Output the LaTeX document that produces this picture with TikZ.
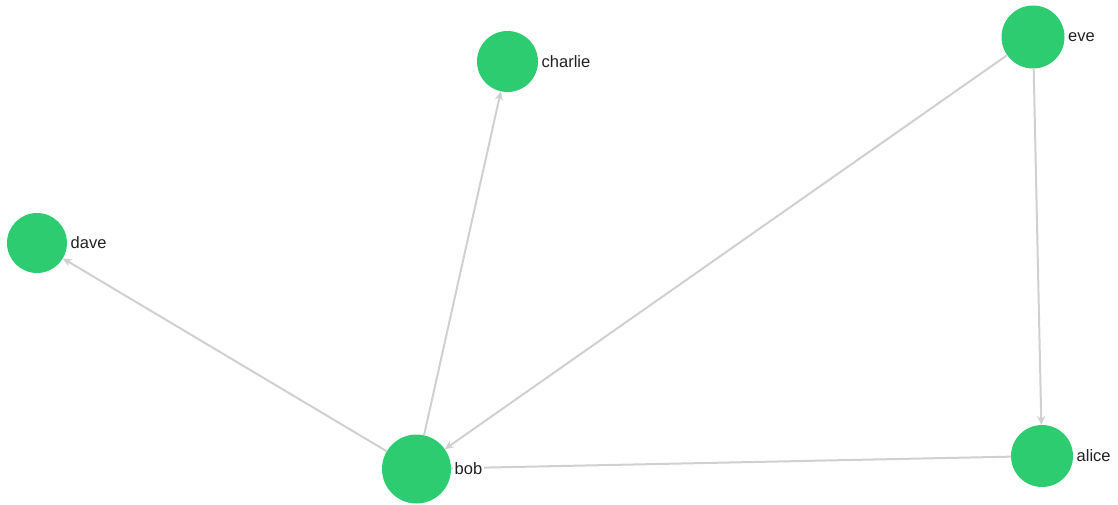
\documentclass[tikz,border=0pt]{standalone}
\usepackage{fontspec}
\setmainfont{Liberation Sans}
\usetikzlibrary{arrows.meta}
\definecolor{nodegreen}{RGB}{46,204,113}
\definecolor{edgegray}{RGB}{208,208,208}
\definecolor{labelgray}{RGB}{34,34,34}
\begin{document}
\begin{tikzpicture}[x=1pt,y=-1pt,
  vertex/.style={circle,fill=nodegreen,draw=none,inner sep=0pt,outer sep=0pt,minimum size=#1},
  vertex/.default=61pt,
  lbl/.style={anchor=west,xshift=2pt,fill=white,inner sep=1.5pt,text=labelgray,font=\fontsize{16.5}{18}\selectfont},
  edge/.style={draw=edgegray,line width=2pt},
  arr/.style={edge,-{Stealth[length=9pt,width=8pt]}}]
\useasboundingbox (0,0) rectangle (1118,504);
\node[vertex] (charlie) at (507.5,61.5) {};
\node[vertex=63pt] (eve) at (1033,37) {};
\node[vertex=60pt] (dave) at (37,243) {};
\node[vertex=69pt] (bob) at (416.5,469) {};
\node[vertex=62pt] (alice) at (1042,456) {};
\draw[arr] (bob) -- (charlie);
\draw[arr] (bob) -- (dave);
\draw[arr] (eve) -- (bob);
\draw[arr] (eve) -- (alice);
\draw[edge] (bob) -- (alice);
\node[lbl] (lcharlie) at (charlie.east) {charlie};
\node[lbl] (leve) at (eve.east) {eve};
\node[lbl] (ldave) at (dave.east) {dave};
\node[lbl] (lbob) at (bob.east) {bob};
\node[lbl] (lalice) at (alice.east) {alice};
\end{tikzpicture}
\end{document}
